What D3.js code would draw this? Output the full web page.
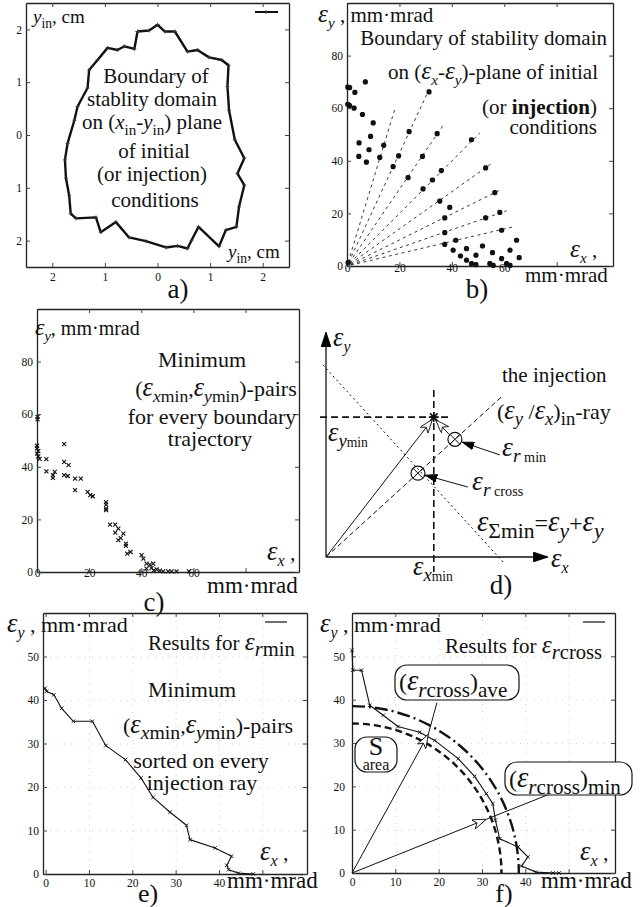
<!DOCTYPE html>
<html>
<head>
<meta charset="utf-8">
<script src="https://cdn.jsdelivr.net/npm/d3@7/dist/d3.min.js"></script>
<style>
  body { margin: 0; background: #fff; }
  text { font-family: "Liberation Serif", "Times New Roman", serif; fill: #111; }
</style>
</head>
<body>
<script>
// a) boundary of the stability domain on the (x_in, y_in) plane, cm
var boundX = [-0.38,-0.16,0,0.14,0.33,0.57,0.76,0.98,1.22,1.35,1.33,1.36,1.47,1.65,1.52,1.65,1.55,1.50,1.30,1.17,0.78,0.65,0.57,0.38,0.16,-0.22,-0.54,-0.79,-1.08,-1.17,-1.55,-1.65,-1.68,-1.74,-1.76,-1.71,-1.58,-1.52,-1.33,-1.30,-1.14,-0.95,-0.76,-0.63,-0.44,-0.38];
var boundY = [1.96,1.98,2.09,1.96,1.96,1.58,1.61,1.47,1.42,1.32,0.92,0.47,-0.09,-0.44,-0.73,-0.95,-1.36,-1.74,-1.80,-2.11,-1.74,-1.99,-2.15,-2.10,-2.13,-2.01,-1.94,-1.65,-1.84,-1.56,-1.58,-1.49,-1.14,-0.82,-0.47,-0.16,0.28,0.54,0.89,1.23,1.42,1.65,1.61,1.68,1.63,1.96];
var aTicks = [-2, -1, 0, 1, 2];
var aTickText = ["2", "1", "0", "1", "2"];

// b) boundary points on the (ex, ey) plane, mm*mrad, and the injection rays
var bX = [0.3,1,3,7,0.3,1,2.7,5.9,10,9,4.6,8.4,4.5,7.4,12.5,14,19.7,17.6,23.7,23.3,28.8,31.3,32.6,29,34.4,36,35.4,37.3,37.3,37.3,39.2,47.5,52.9,56.4,52.9,58.3,59,41.5,40.5,43.3,45.6,45.6,47.5,49.2,49.2,51.7,54.5,55.5,55.8,59,60.9,62.2,62.2,64.7,65.7,0.4];
var bY = [68,67.8,66,70,61.5,61,60,57.6,54.4,49.3,46.8,44.2,41.7,39.5,41.3,45.9,41.9,37.8,51.1,33.6,41.7,66.2,32.7,29.3,50.3,36.3,24.7,18.3,12.7,8.2,22.3,48,37.3,27.9,18.3,20.4,13.6,9.8,6,3.8,6.6,2.2,0.9,0.5,4.1,7.6,0.9,5.1,0.25,2.8,0.9,6,0.25,9.8,3.2,1.3];
var rayX = [31.3,18.2,36.9,50.7,55.8,59,60.9,63.4];
var rayY = [67.1,59.5,53.8,50.6,39.4,29.2,21,14.9];
var bcTicks = [0, 20, 40, 60, 80];
var bcXText = ["0", "20", "40", "60", ""];
var bcYText = ["0", "20", "40", "60", "80"];

// c) minimum (ex_min, ey_min) pairs for every boundary trajectory
var cX = [0.2,0.2,0,0,0.5,0,0.5,1,3.6,3.6,6.1,6.1,6.8,10.4,10.4,12.1,10.4,11.8,14.6,16.8,14.6,19.4,20.4,21.4,26.5,26.5,26.5,26.5,28,30,31.2,30,33.1,31.2,32.1,34.1,34.1,34.6,35.9,40.1,40.8,42,43.3,44.6,43.9,42,45.9,47.1,48.4,50.3,51.6,53.5,58.3,44.8];
var cY = [59,58,48,47,46,45,44,43,42.9,38.3,36.8,35.8,38.1,41.9,48.6,40.6,36.8,36.5,35.5,35.5,31.1,30.5,29.2,28.8,26.6,25.6,24.1,23.5,18,18,16.5,15,14.6,12.1,12.9,10.8,9.9,7,7.6,6.4,5.1,3.2,2.8,3.2,1.5,1.3,1,0.5,0.25,0.25,0.25,0.25,0.25,0.6];

// d) sketch, arbitrary units
var dStar = [49, 63.6];
var dRayEnd = [80, 73];
var dSumLine = [[-1.4, 87.3], [80.5, -2.3]];
var dRmin = [58.6, 53.5];
var dRcross = [41.8, 38.1];

// e) results for e_r min
var eX = [-0.15,0.2,1.9,3.7,6.4,10.8,13.9,18.4,22,24.8,28.7,32.5,33.3,39.1,42.9,41.8,42.2,44.5,47.9];
var eY = [42.7,42,41.2,38.1,35.1,35.1,29.5,26.3,22.1,17.6,14.2,11.2,7.9,6,4.1,2,1,0.2,0];
var efTicks = [0, 10, 20, 30, 40, 50];
var efXText = ["0", "10", "20", "30", "40", ""];

// f) results for e_r cross
var fX = [0,0.2,2.2,4.1,7.2,10.6,15.6,19.1,24.5,28.3,31,32.5,33.1,34.1,38.3,40.6,39.1,42.5,46.4,47.8];
var fY = [51.4,46.8,46.8,38.7,36.4,33.8,32.5,30.6,26.4,22.3,18.3,16,12.2,7.9,6,3.7,1.6,0.2,0,0];
var fRadius = [34.5, 38.5];
var fArrowTip = [[17.6, 32], [31, 12.4]];
var fArrowEnd = [[19.6, 39.3], [45.6, 18.2]];

var svg = d3.select("body").append("svg").attr("width", 643).attr("height", 907);
var defs = svg.append("defs");

function marker(id, path, w, h, refX, fill) {
  defs.append("marker").attr("id", id)
    .attr("viewBox", "0 0 " + w + " " + h)
    .attr("markerWidth", w).attr("markerHeight", h)
    .attr("refX", refX).attr("refY", h / 2)
    .attr("orient", "auto").attr("markerUnits", "userSpaceOnUse")
    .append("path").attr("d", path)
    .attr("fill", fill).attr("stroke", "#000").attr("stroke-width", 0.8);
}
marker("solid", "M0,0L12,4L0,8Z", 12, 8, 12, "#000");
marker("open", "M0,0L14,5L0,10L4,5Z", 14, 10, 14, "#fff");
marker("axisHead", "M0,0L15,5L0,10Z", 15, 10, 14, "#000");

// frame with inward ticks on all four sides
function panel(box, xDom, yDom, xTicks, yTicks, xText, yText, padX, padY, grid) {
  var x = d3.scaleLinear().domain(xDom).range([box.l, box.r]);
  var y = d3.scaleLinear().domain(yDom).range([box.b, box.t]);
  var g = svg.append("g");
  if (grid) {
    g.append("g").attr("transform", "translate(0," + box.b + ")")
      .call(d3.axisBottom(x).tickValues(xTicks.slice(1)).tickSize(box.t - box.b).tickFormat(""))
      .call(function(s) { s.select(".domain").remove(); });
    g.append("g").attr("transform", "translate(" + box.l + ",0)")
      .call(d3.axisLeft(y).tickValues(yTicks.slice(1)).tickSize(box.l - box.r).tickFormat(""))
      .call(function(s) { s.select(".domain").remove(); });
    g.selectAll(".tick line").attr("stroke", "#cfcfcf").attr("stroke-dasharray", "1,6");
  }
  var axes = [
    [d3.axisBottom(x).tickValues(xTicks).tickFormat(function(d, i) { return xText[i]; }).tickPadding(padX), "translate(0," + box.b + ")"],
    [d3.axisTop(x).tickValues(xTicks).tickFormat(""), "translate(0," + box.t + ")"],
    [d3.axisLeft(y).tickValues(yTicks).tickFormat(function(d, i) { return yText[i]; }).tickPadding(padY), "translate(" + box.l + ",0)"],
    [d3.axisRight(y).tickValues(yTicks).tickFormat(""), "translate(" + box.r + ",0)"]
  ];
  axes.forEach(function(a) {
    g.append("g").attr("transform", a[1])
      .call(a[0].tickSizeInner(-4).tickSizeOuter(0))
      .call(function(s) {
        s.attr("font-family", null).attr("font-size", null);
        s.select(".domain").attr("stroke", "#222").attr("stroke-width", 1.3);
        s.selectAll(".tick line").attr("stroke", "#444");
        s.selectAll("text").attr("font-size", 11.5).attr("fill", "#222");
      });
  });
  return { x: x, y: y, g: g };
}

function shape(kind, r) {
  var t = "M" + (-r) + "," + (-r) + "L" + r + "," + r + "M" + (-r) + "," + r + "L" + r + "," + (-r);
  var p = "M" + (-r) + ",0L" + r + ",0M0," + (-r) + "L0," + r;
  if (kind === "times") return t;
  if (kind === "plus") return p;
  var k = r * 0.75;
  return p + "M" + (-k) + "," + (-k) + "L" + k + "," + k + "M" + (-k) + "," + k + "L" + k + "," + (-k);
}

function marks(pn, xs, ys, kind, r, sw, color) {
  pn.g.selectAll(null).data(d3.zip(xs, ys)).enter().append("path")
    .attr("transform", function(d) { return "translate(" + pn.x(d[0]) + "," + pn.y(d[1]) + ")"; })
    .attr("d", shape(kind, r))
    .attr("fill", "none").attr("stroke", color || "#111").attr("stroke-width", sw);
}

function polyline(pn, xs, ys, sw) {
  pn.g.append("path").datum(d3.zip(xs, ys))
    .attr("d", d3.line().x(function(d) { return pn.x(d[0]); }).y(function(d) { return pn.y(d[1]); }))
    .attr("fill", "none").attr("stroke", "#111").attr("stroke-width", sw)
    .attr("stroke-linejoin", "round");
}

// rich text: flags i = italic, s = subscript, e = the big epsilon, b = bold, m = smaller
function rich(x, y, size, parts, anchor, sub) {
  sub = sub || 0.72;
  var t = svg.append("text").attr("x", x).attr("y", y)
    .attr("font-size", size).attr("text-anchor", anchor || "start");
  var off = 0;
  parts.forEach(function(p) {
    var f = p[1] || "", fs = size, shift = 0;
    if (f.indexOf("s") > -1) { fs = size * sub; shift = size * 0.28; }
    if (f.indexOf("e") > -1) fs = size * 1.2;
    if (f.indexOf("m") > -1) fs = size * 0.62;
    var s = t.append("tspan").text(p[0]).attr("font-size", fs).attr("dy", shift - off);
    off = shift;
    if (f.indexOf("i") > -1 || f.indexOf("e") > -1) s.attr("font-style", "italic");
    if (f.indexOf("b") > -1) s.attr("font-weight", "bold");
  });
  return t;
}
var E = ["\u03b5", "e"];

function legendLine(x1, x2, y, sw) {
  svg.append("line").attr("x1", x1).attr("x2", x2).attr("y1", y).attr("y2", y)
    .attr("stroke", "#111").attr("stroke-width", sw);
}

// ---------- a) ----------
var pa = panel({ l: 26, r: 289, t: 3, b: 267 }, [-2.5, 2.5], [-2.5, 2.5],
  aTicks, aTicks, aTickText, aTickText, 6, 4);
polyline(pa, boundX, boundY, 2.4);
marks(pa, boundX, boundY, "plus", 2, 0.8, "#333");
legendLine(255, 278, 12, 2);
svg.append("path").attr("transform", "translate(266,12)").attr("d", shape("plus", 2))
  .attr("stroke", "#333").attr("stroke-width", 0.8);
rich(33, 23, 19, [["y", "i"], ["in", "s"], [", cm"]]);
rich(228, 258, 19, [["y", "i"], ["in", "s"], [", cm"]]);
rich(156, 83, 21, [["Boundary of"]], "middle");
rich(152, 106, 21, [["stablity domain"]], "middle");
rich(152, 129, 21, [["on ("], ["x", "i"], ["in", "s"], ["-"], ["y", "i"], ["in", "s"], [") plane"]], "middle");
rich(154, 158, 21, [["of initial"]], "middle");
rich(152, 181, 21, [["(or injection)"]], "middle");
rich(155, 207, 21, [["conditions"]], "middle");
rich(178, 298, 27, [["a)"]], "middle");

// ---------- b) ----------
var pb = panel({ l: 347, r: 613, t: 3, b: 266 }, [0, 101.5], [0, 100],
  bcTicks, bcTicks, bcXText, bcYText, -2, 4);
pb.g.selectAll(null).data(d3.zip(rayX, rayY)).enter().append("line")
  .attr("x1", pb.x(0)).attr("y1", pb.y(0))
  .attr("x2", function(d) { return pb.x(d[0]); })
  .attr("y2", function(d) { return pb.y(d[1]); })
  .attr("stroke", "#222").attr("stroke-width", 0.9)
  .attr("stroke-dasharray", "3,3.5").attr("stroke-dashoffset", -4);
marks(pb, bX, bY, "star", 2.6, 1.8);
rich(318, 22, 21, [E, ["y", "si"], [" , mm\u00b7mrad"]]);
rich(607, 45, 21, [["Boundary of stability domain"]], "end");
rich(598, 79, 21, [["on ("], E, ["x", "si"], ["-"], E, ["y", "si"], [")-plane of initial"]], "end");
rich(597, 114, 21, [["(or "], ["injection", "b"], [")"]], "end");
rich(597, 134, 21, [["conditions"]], "end");
rich(570, 257, 21, [E, ["x", "si"], [" ,"]]);
rich(525, 282, 21, [["mm\u00b7mrad"]]);
rich(477, 298, 27, [["b)"]], "middle");

// ---------- c) ----------
var pc = panel({ l: 37, r: 299, t: 309, b: 572 }, [0, 100.5], [0, 100],
  bcTicks, bcTicks, bcXText, bcYText, -3, 4);
marks(pc, cX, cY, "times", 2, 1.1);
rich(35, 335, 20, [E, ["y", "si"], [", mm\u00b7mrad"]]);
rich(202, 367, 22, [["Minimum"]], "middle");
rich(216, 396, 22, [["("], E, ["x", "si"], ["min", "s"], [","], E, ["y", "si"], ["min", "s"], [")-pairs"]], "middle", 0.8);
rich(212, 424, 22, [["for every boundary"]], "middle");
rich(210, 446, 22, [["trajectory"]], "middle");
rich(267, 560, 22, [E, ["x", "si"], [" ,"]]);
rich(207, 593, 23, [["mm\u00b7mrad"]]);
rich(154, 611, 27, [["c)"]], "middle");

// ---------- d) ----------
var xd = d3.scaleLinear().domain([0, 100]).range([326, 546]);
var yd = d3.scaleLinear().domain([0, 100]).range([557, 337]);
var gd = svg.append("g");
function dLine(p, q, sw, dash, head) {
  var l = gd.append("line").attr("x1", xd(p[0])).attr("y1", yd(p[1]))
    .attr("x2", xd(q[0])).attr("y2", yd(q[1]))
    .attr("stroke", "#111").attr("stroke-width", sw);
  if (dash) l.attr("stroke-dasharray", dash);
  if (head) l.attr("marker-end", "url(#" + head + ")");
  return l;
}
dLine([0, 0], [0, 101.8], 1.3, null, "axisHead");
dLine([0, 0], [100.5, 0], 1.3, null, "axisHead");
dLine(dSumLine[0], dSumLine[1], 1, "2,3");
dLine([0, 0], dRayEnd, 1, "5,3");
dLine([-2.7, dStar[1]], [dStar[0] + 7.4, dStar[1]], 1.6, "7,4");
dLine([dStar[0], dStar[1] + 12.3], [dStar[0], -6.8], 1.6, "7,4");
dLine([0, 0], [dStar[0] - 0.6, dStar[1] - 1], 1, null, "open");
dLine([dRmin[0] - 2.6, dRmin[1] + 2.2], [dStar[0] + 0.8, dStar[1] - 1.2], 1, null, "open");
gd.append("path").attr("transform", "translate(" + xd(dStar[0]) + "," + yd(dStar[1]) + ")")
  .attr("d", shape("star", 5)).attr("stroke", "#111").attr("stroke-width", 1.6);
[dRmin, dRcross].forEach(function(c) {
  var g = gd.append("g").attr("transform", "translate(" + xd(c[0]) + "," + yd(c[1]) + ")");
  g.append("circle").attr("r", 7).attr("fill", "none").attr("stroke", "#111").attr("stroke-width", 1.2);
  g.append("path").attr("d", shape("times", 4.9)).attr("stroke", "#111").attr("stroke-width", 1);
});
dLine([79, 46.4], [dRmin[0] + 3.3, dRmin[1] - 1.3], 1, null, "solid");
dLine([64.5, 31.8], [dRcross[0] + 3.3, dRcross[1] - 0.9], 1, null, "solid");
rich(333, 346, 22, [E, ["y", "si"]]);
rich(551, 567, 22, [E, ["x", "si"]]);
rich(502, 382, 21, [["the injection"]]);
rich(497, 419, 22, [["("], E, ["y", "si"], [" /"], E, ["x", "si"], [")"], ["in", "s"], ["-ray"]], "start", 0.85);
rich(328, 441, 22, [E, ["y", "si"], ["min", "sm"]], "start", 0.85);
rich(502, 456, 23, [E, ["r", "si"], [" min", "sm"]], "start", 0.85);
rich(472, 490, 23, [E, ["r", "si"], [" cross", "sm"]], "start", 0.85);
rich(477, 531, 24, [E, ["\u03a3min", "s"], ["="], E, ["y", "si"], ["+"], E, ["y", "si"]], "start", 0.9);
rich(413, 575, 22, [E, ["x", "si"], ["min", "sm"]], "start", 0.85);
rich(501, 594, 27, [["d)"]], "middle");

// ---------- e) ----------
var pe = panel({ l: 43, r: 307, t: 613, b: 874 }, [-0.6, 60.3], [0, 60],
  efTicks, efTicks, efXText, efTicks.map(String), 5, 4, true);
polyline(pe, eX, eY, 1.1);
marks(pe, eX, eY, "times", 1.8, 0.9);
legendLine(265, 287, 622, 1.2);
rich(7, 632, 22, [E, ["y", "si"], [" , mm\u00b7mrad"]]);
rich(148, 650, 21, [["Results for "], E, ["r", "si"], ["min", "s"]], "start", 0.98);
rich(192, 697, 22, [["Minimum"]], "middle");
rich(208, 733, 22, [["("], E, ["x", "si"], ["min", "s"], [","], E, ["y", "si"], ["min", "s"], [")-pairs"]], "middle", 0.9);
rich(201, 768, 22, [["sorted on every"]], "middle");
rich(202, 790, 22, [["injection ray"]], "middle");
rich(260, 860, 22, [E, ["x", "si"], [" ,"]]);
rich(227, 888, 23, [["mm\u00b7mrad"]]);
rich(148, 902, 26, [["e)"]], "middle");

// ---------- f) ----------
var pf = panel({ l: 352, r: 615, t: 613, b: 873 }, [0, 60.7], [0, 60],
  efTicks, efTicks, efXText, efTicks.map(String), 5, 7, true);
var arcStyle = [["7,4", 2.4], ["13,4,2,4", 2.4]];
fRadius.forEach(function(r, i) {
  var rx = pf.x(r) - pf.x(0), ry = pf.y(0) - pf.y(r);
  pf.g.append("path")
    .attr("d", "M" + pf.x(0) + "," + pf.y(r) + "A" + rx + "," + ry + " 0 0 1 " + pf.x(r) + "," + pf.y(0))
    .attr("fill", "none").attr("stroke", "#111")
    .attr("stroke-width", arcStyle[i][1]).attr("stroke-dasharray", arcStyle[i][0]);
});
polyline(pf, fX, fY, 1.1);
marks(pf, fX, fY, "times", 1.8, 0.9);
fArrowTip.forEach(function(t, i) {
  pf.g.append("line").attr("x1", pf.x(0)).attr("y1", pf.y(0))
    .attr("x2", pf.x(t[0])).attr("y2", pf.y(t[1]))
    .attr("stroke", "#111").attr("stroke-width", 1).attr("marker-end", "url(#open)");
  pf.g.append("line").attr("x1", pf.x(t[0])).attr("y1", pf.y(t[1]))
    .attr("x2", pf.x(fArrowEnd[i][0])).attr("y2", pf.y(fArrowEnd[i][1]))
    .attr("stroke", "#111").attr("stroke-width", 1);
});
function box(x, y, w, h) {
  svg.append("rect").attr("x", x).attr("y", y).attr("width", w).attr("height", h)
    .attr("rx", 12).attr("fill", "#fff").attr("stroke", "#111").attr("stroke-width", 1.2);
}
box(395, 665, 124, 35);
box(355, 737, 42, 35);
box(505, 762, 127, 33);
legendLine(583, 605, 622, 1.2);
rich(320, 632, 22, [E, ["y", "si"], [" , mm\u00b7mrad"]]);
rich(445, 653, 21, [["Results for "], E, ["r", "si"], ["cross", "s"]], "start", 0.98);
rich(399, 690, 24, [["("], E, ["r", "si"], ["cross", "s"], [")"], ["ave", "s"]], "start", 0.88);
rich(376, 755, 26, [["S"]], "middle");
rich(376, 770, 16, [["area"]], "middle");
rich(509, 787, 24, [["("], E, ["r", "si"], ["cross", "s"], [")"], ["min", "s"]], "start", 0.88);
rich(580, 860, 22, [E, ["x", "si"], [" ,"]]);
rich(541, 888, 23, [["mm\u00b7mrad"]]);
rich(504, 902, 26, [["f)"]], "middle");
</script>
</body>
</html>
